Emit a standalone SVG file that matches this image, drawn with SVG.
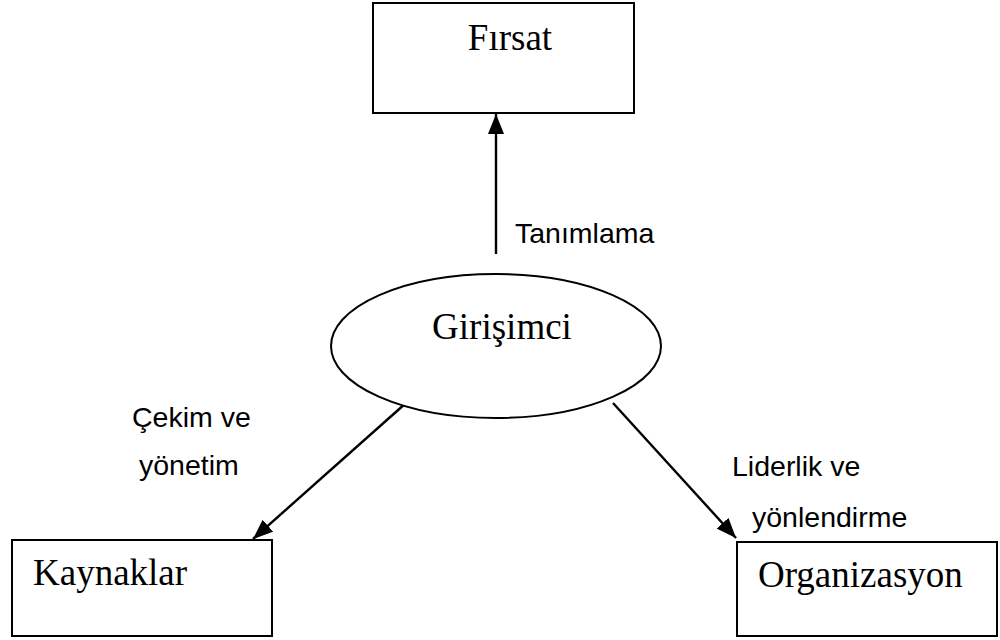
<svg xmlns="http://www.w3.org/2000/svg" width="1000" height="640" viewBox="0 0 1000 640">
<style>
.box{fill:#fff;stroke:#000;stroke-width:2}
.serif{font-family:"Liberation Serif","Times New Roman",serif;font-size:37px;fill:#000}
.sans{font-family:"Liberation Sans",Arial,sans-serif;font-size:28.5px;fill:#000}
.conn{stroke:#000;stroke-width:2.4;fill:none;marker-end:url(#arr)}
</style>
<defs>
<marker id="arr" markerUnits="userSpaceOnUse" markerWidth="20" markerHeight="16" viewBox="0 0 20 16" refX="20" refY="8" orient="auto">
<path d="M0,0 L20,8 L0,16 Z" fill="#000"/>
</marker>
</defs>
<rect width="1000" height="640" fill="#fff"/>
<g id="connectors">
<line class="conn" x1="496" y1="254" x2="496" y2="114"/>
<line class="conn" x1="406" y1="403" x2="253" y2="539"/>
<line class="conn" x1="613" y1="403" x2="736" y2="538"/>
<text class="sans" x="515" y="243">Tanımlama</text>
<text class="sans" x="132" y="427">Çekim ve</text>
<text class="sans" x="139" y="475">yönetim</text>
<text class="sans" x="732" y="476">Liderlik ve</text>
<text class="sans" x="752" y="527">yönlendirme</text>
</g>
<g id="firsat">
<rect class="box" x="373" y="3" width="261" height="110"/>
<text class="serif" x="510" y="50" text-anchor="middle">Fırsat</text>
</g>
<g id="girisimci">
<ellipse class="box" cx="496" cy="346" rx="165" ry="72"/>
<text class="serif" x="502" y="339" text-anchor="middle">Girişimci</text>
</g>
<g id="kaynaklar">
<rect class="box" x="12" y="540" width="260" height="96"/>
<text class="serif" x="33" y="585">Kaynaklar</text>
</g>
<g id="organizasyon">
<rect class="box" x="737" y="542" width="260" height="94"/>
<text class="serif" x="758" y="587">Organizasyon</text>
</g>
</svg>
